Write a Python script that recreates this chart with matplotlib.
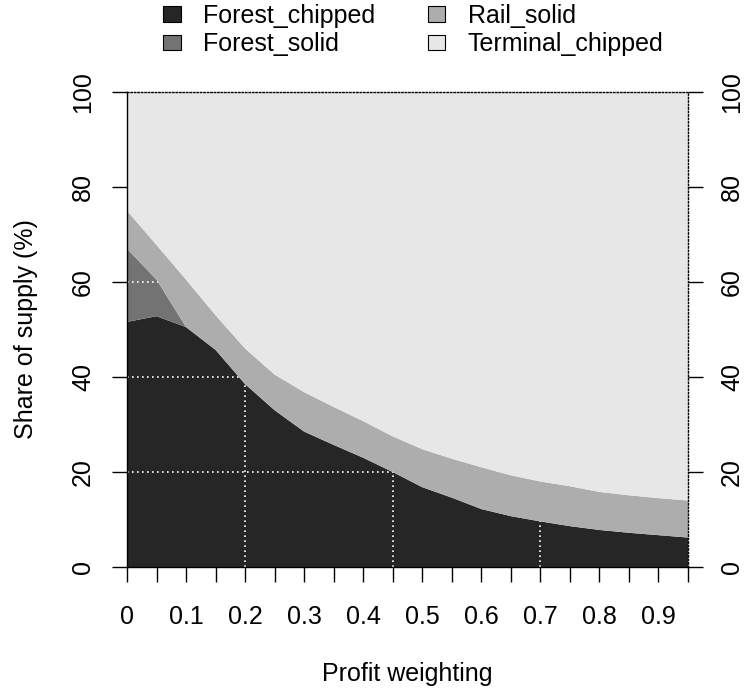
import numpy as np
import matplotlib
matplotlib.use("Agg")
import matplotlib.pyplot as plt
from matplotlib.patches import Patch, Polygon

plt.rcParams['font.family'] = ['Liberation Sans', 'DejaVu Sans']

# profit weighting steps
weighting = [0.0, 0.05, 0.1, 0.15, 0.2, 0.25, 0.3, 0.35, 0.4, 0.45,
             0.5, 0.55, 0.6, 0.65, 0.7, 0.75, 0.8, 0.85, 0.9, 0.95]

# share of supply (%) by source
forest_chipped = [51.6, 52.8, 50.5, 45.7, 38.5, 33.0, 28.5, 25.7, 23.0, 20.0,
                  16.8, 14.6, 12.2, 10.7, 9.6, 8.6, 7.8, 7.2, 6.7, 6.2]
forest_solid = [15.4, 7.7, 0.0, 0.0, 0.0, 0.0, 0.0, 0.0, 0.0, 0.0,
                0.0, 0.0, 0.0, 0.0, 0.0, 0.0, 0.0, 0.0, 0.0, 0.0]
rail_solid = [8.0, 7.3, 10.0, 7.3, 7.5, 7.5, 8.3, 8.0, 7.7, 7.5,
              8.0, 8.2, 8.8, 8.6, 8.4, 8.4, 8.0, 7.9, 7.8, 7.8]
terminal_chipped = [25.0, 32.2, 39.5, 47.0, 54.0, 59.5, 63.2, 66.3, 69.3, 72.5,
                    75.2, 77.2, 79.0, 80.7, 82.0, 83.0, 84.2, 84.9, 85.5, 86.0]

labels = ['Forest_chipped', 'Forest_solid', 'Rail_solid', 'Terminal_chipped']
colors = ['#262626', '#737373', '#adadad', '#e7e7e7']

x_ticks = np.arange(0, 0.951, 0.05)
x_ticklabels = ['0', '', '0.1', '', '0.2', '', '0.3', '', '0.4', '', '0.5', '',
                '0.6', '', '0.7', '', '0.8', '', '0.9', '']
y_ticks = [0, 20, 40, 60, 80, 100]

FS = 18

fig = plt.figure(figsize=(7.45, 6.89), dpi=100)
ax = fig.add_axes([127 / 745, 1 - 567 / 689, (688 - 127) / 745, (567 - 92) / 689])

x = np.array(weighting)
series = [forest_chipped, forest_solid, rail_solid, terminal_chipped]
ax.stackplot(x, *series, colors=colors, linewidth=0)

ax.set_xlim(0, 0.95)
ax.set_ylim(0, 100)

# white dotted grid that only shows through the forest area
forest_top = np.array(forest_chipped) + np.array(forest_solid)
clip_xy = np.vstack([np.column_stack([x, forest_top]), [[0.95, 0], [0, 0]]])
clip_poly = Polygon(clip_xy, closed=True, transform=ax.transData, facecolor='none', edgecolor='none')
ax.add_patch(clip_poly)
for gx in [0.2, 0.45, 0.7]:
    ln, = ax.plot([gx, gx], [0, 100], color='white', linestyle=(0, (1, 2)), linewidth=1.2)
    ln.set_clip_path(clip_poly)
for gy in [20, 40, 60, 80]:
    ln, = ax.plot([0, 0.95], [gy, gy], color='white', linestyle=(0, (1, 2)), linewidth=1.2)
    ln.set_clip_path(clip_poly)

# frame: solid left/bottom, dotted top/right
ax.spines['top'].set_linestyle((0, (1, 1.5)))
ax.spines['right'].set_linestyle((0, (1, 1.5)))
for s in ax.spines.values():
    s.set_linewidth(1.0)

ax.set_xticks(x_ticks)
ax.set_xticklabels(x_ticklabels)
ax.set_yticks(y_ticks)
ax.set_yticklabels([str(v) for v in y_ticks])
ax.tick_params(axis='x', direction='out', length=11, width=1.0, pad=16, labelsize=FS)
ax.tick_params(axis='y', direction='out', length=11, width=1.0, labelsize=FS,
               right=True, labelright=True)
ax.tick_params(axis='y', which='major', pad=12)
for t in ax.yaxis.get_major_ticks():
    t.label1.set_rotation(90)
    t.label2.set_rotation(90)
    t.label1.set_va('center')
    t.label2.set_va('center')
    t.set_pad(12)

fig.text(26 / 745, 1 - 329 / 689, 'Share of supply (%)', rotation=90,
         ha='center', va='center', fontsize=FS)
fig.text(407 / 745, 1 - 674 / 689, 'Profit weighting', ha='center', va='center', fontsize=FS)

handles = [Patch(facecolor=c, edgecolor='black', linewidth=0.8) for c in colors]
fig.legend(handles, labels, ncol=2, loc='upper left', bbox_to_anchor=(163 / 745, 1 - 4 / 689),
           frameon=False, fontsize=FS, handlelength=0.7, handleheight=0.6,
           handletextpad=0.9, columnspacing=2.1, labelspacing=0.17,
           borderpad=0, borderaxespad=0)

fig.savefig('out.png', dpi=100)
